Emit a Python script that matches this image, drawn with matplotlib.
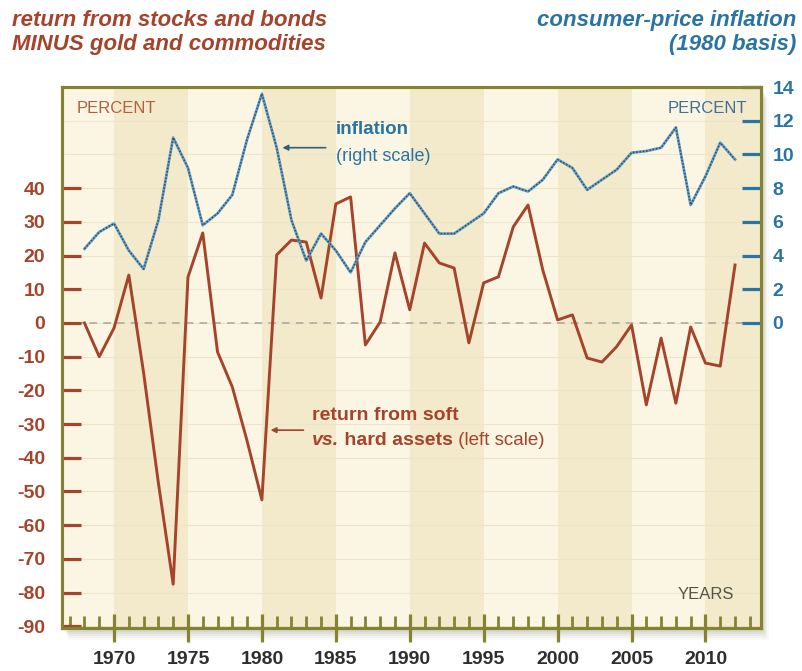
import matplotlib
matplotlib.use("Agg")
import matplotlib.pyplot as plt
from matplotlib.patches import Rectangle
import numpy as np

# ---- data ----
years = list(range(1968, 2013))

# return from stocks & bonds minus gold & commodities (%, left scale)
soft_vs_hard = [0.0, -10.0, -1.5, 14.2, -14.8, -47.5, -77.5, 13.6, 26.7, -8.6,
                -19.0, -35.0, -52.5, 20.2, 24.6, 24.0, 7.4, 35.3, 37.4, -6.5,
                0.3, 20.8, 3.9, 23.7, 17.8, 16.3, -5.9, 11.9, 13.7, 28.5,
                35.0, 15.7, 0.9, 2.4, -10.4, -11.6, -7.0, -0.6, -24.3, -4.5,
                -23.8, -1.2, -11.9, -12.8, 17.2]

# consumer-price inflation, 1980 basis (%, right scale)
inflation = [4.4, 5.4, 5.9, 4.3, 3.2, 6.1, 11.0, 9.2, 5.8, 6.5,
             7.6, 10.9, 13.6, 10.4, 6.1, 3.7, 5.3, 4.3, 3.0, 4.8,
             5.8, 6.8, 7.7, 6.5, 5.3, 5.3, 5.9, 6.5, 7.7, 8.1,
             7.8, 8.5, 9.7, 9.2, 7.9, 8.5, 9.1, 10.1, 10.2, 10.4,
             11.6, 7.0, 8.7, 10.7, 9.7]

left_ticks = list(range(40, -100, -10))
right_ticks = list(range(0, 16, 2))
year_labels = [1970, 1975, 1980, 1985, 1990, 1995, 2000, 2005, 2010]

BROWN = "#a5432b"
BLUE = "#2a74a4"
OLIVE = "#85832f"
FONT = "Liberation Sans"

plt.rcParams["font.family"] = [FONT, "DejaVu Sans"]

fig = plt.figure(figsize=(8.02, 6.71), dpi=100)
fig.patch.set_facecolor("white")

ax_rect = [0.0773, 0.0641, 0.872, 0.8062]

# soft drop shadow behind the frame
x0, y0 = ax_rect[0] * 802, ax_rect[1] * 671
w, h = ax_rect[2] * 802, ax_rect[3] * 671
for i, a in enumerate([0.04, 0.05, 0.06, 0.07, 0.08]):
    off = 12 - 2 * i
    fig.patches.append(Rectangle((x0 + off * 0.6, y0 - off), w, h,
                                 transform=None, facecolor="#6e6a55",
                                 alpha=a, edgecolor="none", zorder=0))

ax = fig.add_axes(ax_rect)
ax.set_zorder(2)
ax.set_facecolor("#faf6e3")
ax.set_xlim(1966.48, 2013.78)
ax.set_ylim(-90.5, 70)

# alternating five-year bands
for start in range(1970, 2015, 10):
    ax.axvspan(start, start + 5, color="#f3eacb", lw=0, zorder=0)

# faint horizontal rules
for v in range(-90, 71, 10):
    ax.axhline(v, color="#ece4cc", lw=0.8, zorder=0.5)
ax.axhline(0, color="#a9a59a", lw=1.1, ls=(0, (5, 4)), zorder=1)

ax.plot(years, soft_vs_hard, color=BROWN, lw=2.1, zorder=3)

ax2 = ax.twinx()
ax2.set_zorder(3)
ax2.set_ylim(-18.1, 14)
ax2.plot(years, inflation, color="#6aa0c6", lw=2.0, zorder=3)
ax2.plot(years, inflation, color="#2f5670", lw=1.2, ls=(0, (1, 1)), zorder=4)

# frame
for a in (ax, ax2):
    for s in a.spines.values():
        s.set_color(OLIVE)
        s.set_linewidth(2.2)

ax.set_yticks(left_ticks)
ax.set_yticklabels([str(t) for t in left_ticks])
ax.tick_params(axis="y", direction="in", length=14, width=2.3, color=BROWN,
               labelcolor=BROWN, labelsize=14, pad=12)
for t in ax.get_yticklabels():
    t.set_fontweight("bold")

ax2.set_yticks(right_ticks)
ax2.tick_params(axis="y", direction="in", length=14, width=2.3, color=BLUE,
                labelcolor=BLUE, labelsize=14, pad=8)
for t in ax2.get_yticklabels():
    t.set_fontweight("bold")

ax.set_xticks(year_labels)
ax.set_xticks(range(1967, 2014), minor=True)
ax.tick_params(axis="x", which="major", direction="inout", length=20, width=2.3,
               color=OLIVE, labelcolor="#2e2e2e", labelsize=14, pad=6.5)
ax.tick_params(axis="x", which="minor", direction="in", length=8.5, width=2.0,
               color=OLIVE)
for t in ax.get_xticklabels():
    t.set_fontweight("bold")

# in-plot labels
ax.text(1967.5, 63.5, "PERCENT", color="#b0603f", fontsize=12, va="center")
ax.text(2012.85, 63.5, "PERCENT", color="#3f6f93", fontsize=12, va="center",
        ha="right")
ax.text(2011.9, -80.5, "YEARS", color="#55544a", fontsize=12, va="center",
        ha="right")

# inflation callout
ax.text(1985.0, 57.3, "inflation", color=BLUE, fontsize=13.5, fontweight="bold",
        va="center")
ax.text(1985.0, 49.3, "(right scale)", color=BLUE, fontsize=13, va="center")
ax.annotate("", xy=(1981.2, 52), xytext=(1984.5, 52),
            arrowprops=dict(arrowstyle="-|>", color="#2f5f80", lw=1.2,
                            mutation_scale=8))

# soft vs hard callout
ax.text(1983.4, -27.6, "return from soft", color=BROWN, fontsize=14,
        fontweight="bold", va="center")
t1 = ax.text(1983.4, -34.8, "vs.", color=BROWN, fontsize=14,
             fontweight="bold", fontstyle="italic", va="center")
t2 = ax.annotate(" hard assets", xy=(1, 0), xycoords=t1, va="bottom",
                 color=BROWN, fontsize=14, fontweight="bold")
ax.annotate(" (left scale)", xy=(1, 0), xycoords=t2, va="bottom",
            color=BROWN, fontsize=13.5)
ax.annotate("", xy=(1980.4, -31.8), xytext=(1983.0, -31.8),
            arrowprops=dict(arrowstyle="-|>", color=BROWN, lw=1.2,
                            mutation_scale=8))

# headings above the frame
fig.text(0.015, 0.970, "return from stocks and bonds", color=BROWN,
         fontsize=16, fontweight="bold", fontstyle="italic", va="center")
fig.text(0.015, 0.934, "MINUS gold and commodities", color=BROWN,
         fontsize=16, fontweight="bold", fontstyle="italic", va="center")
fig.text(0.993, 0.970, "consumer-price inflation", color=BLUE,
         fontsize=16, fontweight="bold", fontstyle="italic", va="center",
         ha="right")
fig.text(0.993, 0.934, "(1980 basis)", color=BLUE,
         fontsize=16, fontweight="bold", fontstyle="italic", va="center",
         ha="right")

fig.savefig("out.png", dpi=100)
